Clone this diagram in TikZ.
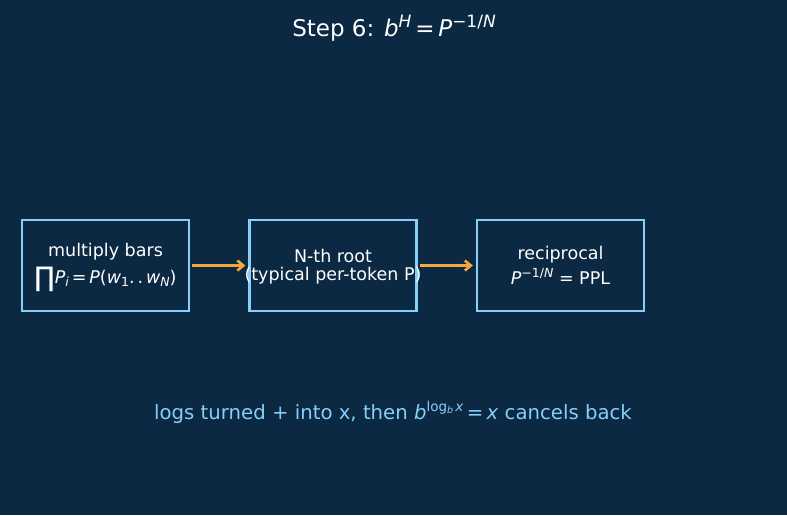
\documentclass[tikz,border=0pt]{standalone}
\usepackage{fontspec}
\setmainfont{DejaVu Sans}
\definecolor{bgc}{HTML}{0B2942}
\definecolor{edgec}{HTML}{87CEFA}
\definecolor{arrc}{HTML}{F5A742}
\newcommand\fs[1]{\fontsize{#1}{#1}\selectfont}
\newcommand\upr[2]{\raisebox{#1}{#2}}
\begin{document}
\begin{tikzpicture}[x=1pt,y=-1pt,
  procbox/.style={draw=edgec,line width=2.3pt,minimum width=167pt,minimum height=91pt,inner sep=0pt,text=white,align=center},
  flowarrow/.style={draw=arrc,line width=2.6pt,-{Straight Barb[length=6pt,width=10pt]}}]
\usetikzlibrary{arrows.meta}
\fill[bgc] (0,0) rectangle (787,515);
\useasboundingbox (0,0) rectangle (787,515);
\node[text=white,font=\fs{23}] (title) at (394,28) {Step 6: \textit{b}\upr{9pt}{\fs{17}\textit{H}}\,=\,\textit{P}\upr{9pt}{\fs{17}−1/\textit{N}}};
\node[procbox] (b1) at (105.5,265.5) {};
\node[procbox] (b2) at (333,265.5) {};
\node[procbox] (b3) at (560.5,265.5) {};
\node[text=white,font=\fs{17.5}] (t1a) at (105.5,251.5) {multiply bars};
\node[text=white,font=\fs{17.5}] (t1b) at (105.5,279) {\upr{-3pt}{\fs{27}∏}\textit{P}\upr{-3pt}{\fs{12.5}\textit{i}}\,=\,\textit{P}(\textit{w}\upr{-3pt}{\fs{12.5}1}.\,.\,\textit{w}\upr{-3pt}{\fs{12.5}\textit{N}})};
\node[text=white,font=\fs{17.5}] (t2a) at (333,256) {N-th root};
\node[text=white,font=\fs{17.5}] (t2b) at (333,276) {(typical per-token P)};
\node[text=white,font=\fs{17.5}] (t3a) at (560.5,255) {reciprocal};
\node[text=white,font=\fs{17.5}] (t3b) at (560.5,276.5) {\textit{P}\upr{7.5pt}{\fs{12.5}−1/\textit{N}} = PPL};
\draw[flowarrow] ([xshift=2pt]b1.east) -- ([xshift=-3pt]b2.west);
\draw[flowarrow] ([xshift=2pt]b2.east) -- ([xshift=-3pt]b3.west);
\node[text=edgec,font=\fs{19.7}] (note) at (393,412.5) {logs turned + into x, then \textit{b}\upr{7.5pt}{\fs{13.5}log\upr{-2pt}{\fs{9.5}\textit{b}}\,\textit{x}}\,=\,\textit{x} cancels back};
\end{tikzpicture}
\end{document}
